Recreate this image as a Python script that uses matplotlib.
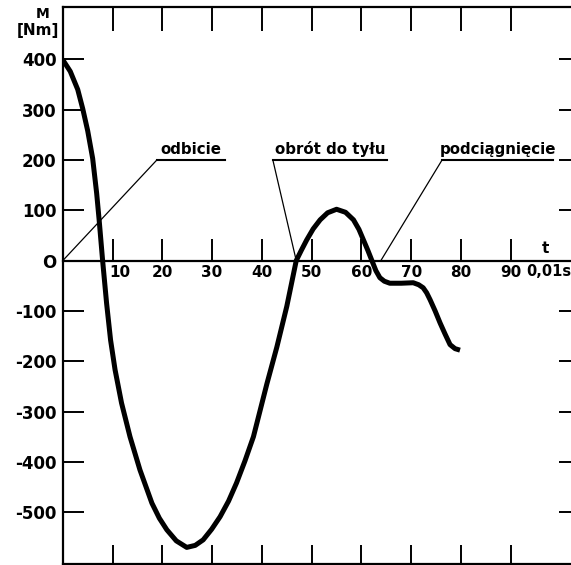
import numpy as np
import matplotlib
matplotlib.use("Agg")
import matplotlib.pyplot as plt
from matplotlib.transforms import ScaledTranslation

# curve M(t) (t in 0.01 s, M in Nm)
t_vals = [0, 1.5, 3.0, 4.0, 5.0, 6.0, 6.8, 7.3, 8.0, 8.8, 9.6, 10.5, 11.8, 13.5,
          15.5, 17.9, 19.4, 20.9, 22.8, 24.9, 26.6, 28.2, 29.9, 31.6, 33.3, 34.9,
          36.6, 38.3, 41.0, 43.0, 45.0, 46.9, 47.9, 49.0, 50.3, 51.7, 53.2, 55.0,
          56.8, 58.4, 59.5, 60.4, 61.3, 62.1, 62.9, 63.7, 64.6, 65.7, 68.0, 70.4,
          71.5, 72.4, 73.1, 73.8, 74.8, 75.8, 76.8, 77.8, 78.8, 79.8]
m_vals = [399, 376, 340, 302, 258, 203, 134, 81, 0, -85, -158, -217, -283, -350,
          -416, -482, -512, -535, -557, -570, -566, -555, -534, -509, -478, -442,
          -398, -350, -245, -172, -91, 0, 20, 41, 63, 81, 95, 102,
          96, 81, 62, 41, 20, 0, -20, -34, -41, -45, -45, -44,
          -48, -54, -64, -78, -100, -124, -146, -167, -175, -178]

y_ticks = [400, 300, 200, 100, 0, -100, -200, -300, -400, -500]
y_labels = ["400", "300", "200", "100", "O", "-100", "-200", "-300", "-400", "-500"]
x_ticks = [10, 20, 30, 40, 50, 60, 70, 80, 90]
x_labels = ["10", "20", "30", "40", "50", "60", "70", "80", "90"]

# phase labels: text, underline start/end (t), leader end point on M = 0
phases = ["odbicie", "obrót do tyłu", "podciągnięcie"]
line_from = [18.9, 42.2, 76.2]
line_to = [32.6, 65.1, 98.5]
leader_end = [0.0, 46.9, 63.9]
label_level = 200

x_min, x_max = 0, 102.1
y_min, y_max = -603, 504

fig = plt.figure(figsize=(5.71, 5.65), dpi=100)
ax = fig.add_axes([62.8 / 571, 1 / 565, (571 - 62.8) / 571, 557 / 565])
ax.set_xlim(x_min, x_max)
ax.set_ylim(y_min, y_max)

bold = dict(family="DejaVu Sans", weight="bold")

ax.plot(t_vals, m_vals, color="black", lw=3.6, solid_joinstyle="round",
        solid_capstyle="butt", zorder=5)

# frame
for s in ["left", "top", "bottom"]:
    ax.spines[s].set_linewidth(1.6)
ax.spines["right"].set_visible(False)

ax.set_yticks(y_ticks)
ax.set_yticklabels(y_labels, fontsize=12, **bold)
ax.tick_params(axis="y", direction="in", length=15, width=1.4, pad=4.5,
               right=True)
for tk in ax.yaxis.get_major_ticks():
    tk.tick2line.set_markersize(9)

ax.set_xticks(x_ticks)
ax.set_xticklabels([])
ax.tick_params(axis="x", direction="in", top=True, width=1.4)
for tk in ax.xaxis.get_major_ticks():
    tk.tick1line.set_markersize(14)
    tk.tick2line.set_markersize(17)

# time axis at M = 0
zero_frac = (0 - y_min) / (y_max - y_min)
sec = ax.secondary_xaxis(zero_frac)
for s in ["top", "bottom"]:
    sec.spines[s].set_linewidth(1.6)
sec.xaxis.set_ticks_position("bottom")
sec.xaxis.set_label_position("bottom")
sec.set_xticks(x_ticks)
sec.set_xticklabels(x_labels, fontsize=11, **bold)
sec.tick_params(axis="x", direction="in", length=16, width=1.4, pad=3,
                bottom=True, labelbottom=True, top=False, labeltop=False)
first = sec.xaxis.get_majorticklabels()[0]
first.set_transform(first.get_transform() +
                    ScaledTranslation(7 / 100, 0, fig.dpi_scale_trans))

# phase annotations
for name, a, b, e in zip(phases, line_from, line_to, leader_end):
    ax.plot([a, b], [label_level, label_level], color="black", lw=1.5)
    ax.plot([a, e], [label_level, 0], color="black", lw=0.9)
    ax.text((a + b) / 2, label_level + 12, name, ha="center", va="baseline",
            fontsize=10.8, **bold)

ax.text(96.9, 25, "t", ha="center", va="center", fontsize=11, **bold)
ax.text(x_max, -22, "0,01s", ha="right", va="center", fontsize=10.5, **bold)

fig.text(43 / 571, 1 - 14 / 565, "M", ha="center", va="center", fontsize=10, **bold)
fig.text(38 / 571, 1 - 31 / 565, "[Nm]", ha="center", va="center", fontsize=11, **bold)

fig.savefig("out.png", dpi=100)
